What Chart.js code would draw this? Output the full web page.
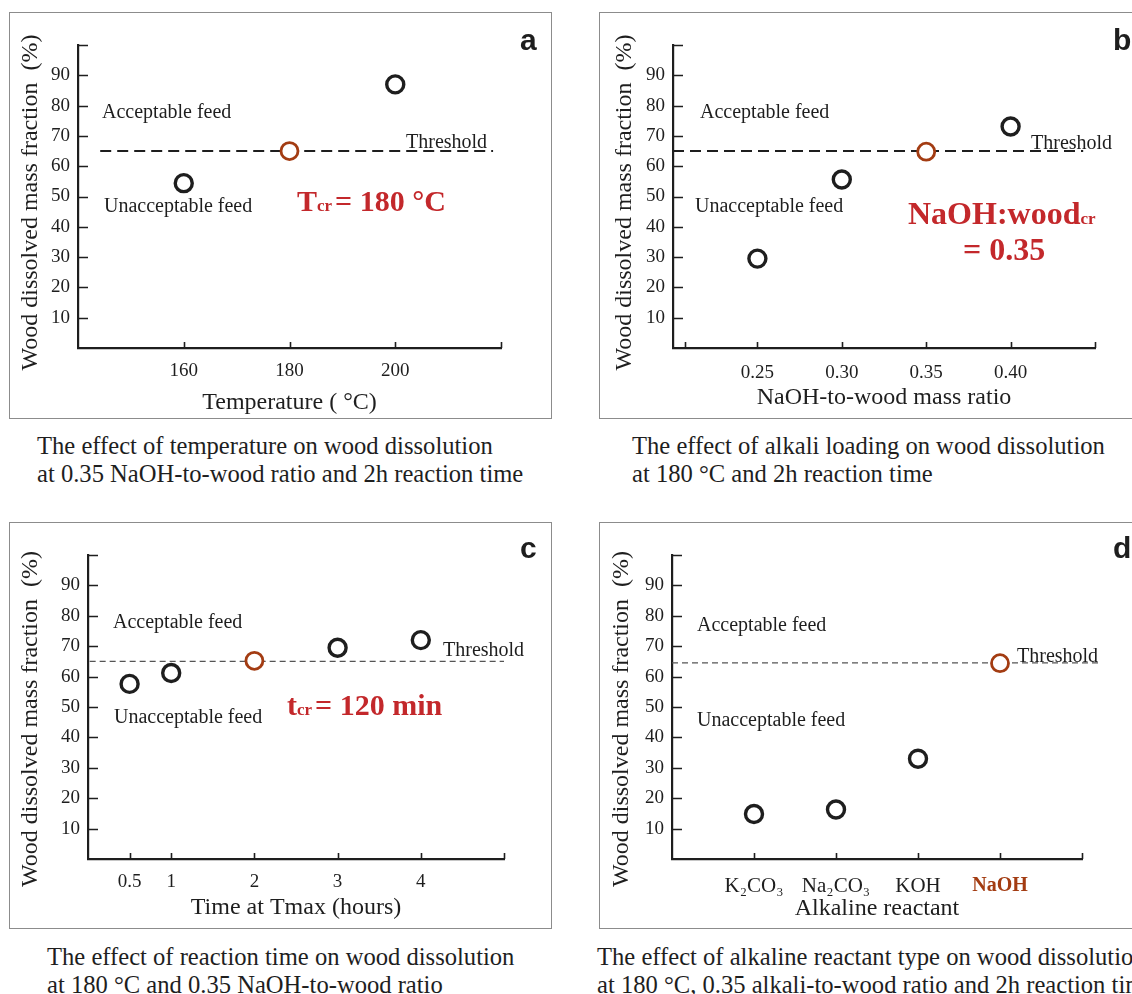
<!DOCTYPE html>
<html>
<head>
<meta charset="utf-8">
<script src="https://cdn.jsdelivr.net/npm/chart.js@4.4.1/dist/chart.umd.min.js"></script>
<style>
  body { margin: 0; background: #fff; width: 1132px; height: 994px; position: relative; overflow: hidden; }
  canvas { position: absolute; }
  .cap { position: absolute; font-family: "Liberation Serif", "Times New Roman", serif; font-size: 24.6px; line-height: 28px; color: #1e1e1e; white-space: nowrap; }
</style>
</head>
<body>
<canvas id="pa" width="543" height="407" style="left:9px;top:12px"></canvas>
<canvas id="pb" width="560" height="407" style="left:599px;top:12px"></canvas>
<canvas id="pc" width="543" height="407" style="left:9px;top:522px"></canvas>
<canvas id="pd" width="560" height="407" style="left:599px;top:522px"></canvas>

<div class="cap" style="left:37px;top:432px">The effect of temperature on wood dissolution<br>at 0.35 NaOH-to-wood ratio and 2h reaction time</div>
<div class="cap" style="left:632px;top:432px">The effect of alkali loading on wood dissolution<br>at 180 °C and 2h reaction time</div>
<div class="cap" style="left:47px;top:943px">The effect of reaction time on wood dissolution<br>at 180 °C and 0.35 NaOH-to-wood ratio</div>
<div class="cap" style="left:597px;top:943px">The effect of alkaline reactant type on wood dissolution<br>at 180 °C, 0.35 alkali-to-wood ratio and 2h reaction time</div>

<script>
// data
const yTicks = [10, 20, 30, 40, 50, 60, 70, 80, 90];

// a: temperature
const tempX = [160, 180, 200];
const tempY = [54.4, 65, 87];
const tempTicks = [160, 180, 200];

// b: NaOH-to-wood ratio
const ratioX = [0.25, 0.30, 0.35, 0.40];
const ratioY = [29.5, 55.6, 64.8, 73.1];
const ratioTicks = [0.25, 0.30, 0.35, 0.40];

// c: time at Tmax
const timeX = [0.5, 1, 2, 3, 4];
const timeY = [57.6, 61.2, 65.2, 69.5, 72];
const timeTicks = [0.5, 1, 2, 3, 4];

// d: alkaline reactant
const reactants = ['K₂CO₃', 'Na₂CO₃', 'KOH', 'NaOH'];
const reactY = [14.8, 16.3, 33, 64.4];

const thresholds = [65, 65, 65, 64.5];

const serif = '"Liberation Serif", "Times New Roman", serif';
const sans = '"Liberation Sans", Arial, sans-serif';
const ink = '#1e1e1e', red = '#c3282b', brown = '#a33c12';
const yTitle = 'Wood dissolved mass fraction  (%)';

Chart.defaults.font.family = serif;
Chart.defaults.color = ink;

const extras = {};

// short ticks pointing into the plot, plus panel frame and the text notes
const decorate = {
  id: 'decorate',
  afterDraw(chart) {
    const p = extras[chart.canvas.id];
    const { ctx, chartArea: a, scales: { x, y } } = chart;
    ctx.save();
    ctx.strokeStyle = '#8c8c8c';
    ctx.lineWidth = 1;
    ctx.strokeRect(0.5, 0.5, chart.width - 1, chart.height - 1);

    ctx.strokeStyle = ink;
    ctx.lineWidth = 1.6;
    ctx.beginPath();
    p.yMarks.forEach(v => {
      const py = Math.round(y.getPixelForValue(v)) + 0.5;
      ctx.moveTo(a.left, py); ctx.lineTo(a.left + 10, py);
    });
    p.xMarks.forEach(v => {
      const px = Math.round(x.getPixelForValue(v)) + 0.5;
      ctx.moveTo(px, a.bottom); ctx.lineTo(px, a.bottom - 6);
    });
    ctx.stroke();

    ctx.textBaseline = 'alphabetic';
    ctx.textAlign = 'left';
    p.notes.forEach(n => {
      let tx = n.x - p.ox;
      ctx.fillStyle = n.color || ink;
      n.runs.forEach(r => {
        ctx.font = r.font;
        tx += r.dx || 0;
        ctx.fillText(r.t, tx, n.y - p.oy);
        tx += ctx.measureText(r.t).width;
      });
    });
    ctx.restore();
  }
};

const plain = t => [{ t, font: '20px ' + serif }];
const big = (t, s) => ({ t, font: 'bold ' + (s || 30) + 'px ' + serif });
const sub = t => ({ t, font: 'bold 17px ' + serif });

function drawPanel(p) {
  extras[p.id] = p;
  const canvas = document.getElementById(p.id);
  const W = canvas.width, H = canvas.height;
  return new Chart(canvas, {
    type: 'scatter',
    data: {
      datasets: [
        {
          data: p.xs.map((x, i) => ({ x, y: p.ys[i] })),
          order: 0,
          pointRadius: 8.5,
          pointHoverRadius: 8.5,
          pointBorderWidth: p.xs.map((_, i) => i === p.hi ? 2.8 : 3.4),
          pointBorderColor: p.xs.map((_, i) => i === p.hi ? brown : ink),
          pointBackgroundColor: '#fff'
        },
        {
          type: 'line',
          data: p.span.map(x => ({ x, y: p.thr })),
          order: 1,
          borderColor: p.thin ? '#555' : ink,
          borderWidth: p.thin ? 1.3 : 2,
          borderDash: p.thin ? [6, 4] : [11, 6],
          pointRadius: 0,
          fill: false,
          clip: false
        }
      ]
    },
    options: {
      responsive: false,
      animation: false,
      events: [],
      layout: { padding: { left: 0, top: p.area.t, right: W - p.area.r, bottom: 0 } },
      plugins: { legend: { display: false }, tooltip: { enabled: false } },
      scales: {
        x: {
          type: 'linear',
          min: p.xMin, max: p.xMax,
          afterBuildTicks: s => { s.ticks = p.xTicks.map(v => ({ value: v })); },
          afterFit: s => { s.height = H - p.area.b; },
          grid: { display: false, drawTicks: false },
          border: { display: true, color: ink, width: 2.2 },
          ticks: {
            padding: p.xPad,
            autoSkip: false,
            maxRotation: 0,
            color: p.xColor || ink,
            font: p.xFont || { family: serif, size: 19 },
            callback: p.xFmt
          },
          title: {
            display: true, text: p.xTitle, color: ink,
            font: { family: serif, size: 24 },
            padding: { top: 0, bottom: p.xTitlePad }
          }
        },
        y: {
          min: 0, max: 100,
          afterBuildTicks: s => { s.ticks = yTicks.map(v => ({ value: v })); },
          afterFit: s => { s.width = p.area.l; },
          grid: { display: false, drawTicks: false },
          border: { display: true, color: ink, width: 2.2 },
          ticks: { padding: 8, color: ink, font: { family: serif, size: 19 } },
          title: {
            // trailing spaces nudge the centred title a little lower, as in the figure
            display: true, text: yTitle + ' '.repeat(p.yShift), color: ink,
            font: { family: serif, size: 24 },
            padding: { top: p.yTitlePad, bottom: 0 }
          }
        }
      }
    },
    plugins: [decorate]
  });
}

drawPanel({
  id: 'pa', ox: 9, oy: 12,
  area: { l: 69, t: 33, r: 492, b: 336 },
  xs: tempX, ys: tempY, hi: 1,
  xMin: 140, xMax: 220, xTicks: tempTicks, xMarks: [160, 180, 200, 220],
  yMarks: [10, 20, 30, 40, 50, 60, 70, 80, 90, 100],
  xFmt: v => String(v), xPad: 12,
  xTitle: 'Temperature ( °C)', xTitlePad: 2, yTitlePad: 7, yShift: 2,
  thr: thresholds[0], span: [144.2, 218.5], thin: false,
  notes: [
    { x: 102, y: 118, runs: plain('Acceptable feed') },
    { x: 104, y: 212, runs: plain('Unacceptable feed') },
    { x: 406, y: 148, runs: plain('Threshold') },
    { x: 297, y: 211, color: red, runs: [big('T'), sub('cr'), Object.assign(big('= 180 °C'), { dx: 3 })] },
    { x: 520, y: 50, runs: [{ t: 'a', font: 'bold 30px ' + sans }] }
  ]
});

drawPanel({
  id: 'pb', ox: 599, oy: 12,
  area: { l: 74, t: 33, r: 496, b: 336 },
  xs: ratioX, ys: ratioY, hi: 2,
  xMin: 0.2, xMax: 0.45, xTicks: ratioTicks, xMarks: [0.207, 0.25, 0.30, 0.35, 0.40, 0.45],
  yMarks: [10, 20, 30, 40, 50, 60, 70, 80, 90, 100],
  xFmt: v => v.toFixed(2), xPad: 14,
  xTitle: 'NaOH-to-wood mass ratio', xTitlePad: 7, yTitlePad: 11, yShift: 2,
  thr: thresholds[1], span: [0.2, 0.443], thin: false,
  notes: [
    { x: 700, y: 118, runs: plain('Acceptable feed') },
    { x: 695, y: 212, runs: plain('Unacceptable feed') },
    { x: 1031, y: 149, runs: plain('Threshold') },
    { x: 908, y: 224, color: red, runs: [big('NaOH:wood', 32), sub('cr')] },
    { x: 963, y: 260, color: red, runs: [big('= 0.35', 32)] },
    { x: 1113, y: 50, runs: [{ t: 'b', font: 'bold 30px ' + sans }] }
  ]
});

drawPanel({
  id: 'pc', ox: 9, oy: 522,
  area: { l: 79, t: 33, r: 495, b: 337 },
  xs: timeX, ys: timeY, hi: 2,
  xMin: 0, xMax: 5, xTicks: timeTicks, xMarks: [0.5, 1, 2, 3, 4, 5],
  yMarks: [10, 20, 30, 40, 50, 60, 70, 80, 90, 100],
  xFmt: v => String(v), xPad: 12,
  xTitle: 'Time at Tmax (hours)', xTitlePad: 7, yTitlePad: 7, yShift: 4,
  thr: thresholds[2], span: [0.02, 5], thin: true,
  notes: [
    { x: 113, y: 628, runs: plain('Acceptable feed') },
    { x: 114, y: 723, runs: plain('Unacceptable feed') },
    { x: 443, y: 656, runs: plain('Threshold') },
    { x: 287, y: 715, color: red, runs: [big('t'), sub('cr'), Object.assign(big('= 120 min'), { dx: 3 })] },
    { x: 520, y: 558, runs: [{ t: 'c', font: 'bold 30px ' + sans }] }
  ]
});

drawPanel({
  id: 'pd', ox: 599, oy: 522,
  area: { l: 73, t: 33, r: 483, b: 337 },
  xs: reactants.map((_, i) => i), ys: reactY, hi: 3,
  xMin: -1, xMax: 4, xTicks: reactants.map((_, i) => i), xMarks: [0, 1, 2, 3, 4],
  yMarks: [10, 20, 30, 40, 50, 60, 70, 80, 90, 100],
  xFmt: v => reactants[v], xPad: 15,
  xColor: c => (c.tick && c.tick.value === 3) ? brown : ink,
  xFont: c => (c.tick && c.tick.value === 3)
    ? { family: serif, size: 20, weight: 'bold' }
    : { family: serif, size: 21, weight: 'normal' },
  xTitle: 'Alkaline reactant', xTitlePad: 6, yTitlePad: 8, yShift: 4,
  thr: thresholds[3], span: [-1, 4.2], thin: true,
  notes: [
    { x: 697, y: 631, runs: plain('Acceptable feed') },
    { x: 697, y: 726, runs: plain('Unacceptable feed') },
    { x: 1017, y: 662, runs: plain('Threshold') },
    { x: 1113, y: 558, runs: [{ t: 'd', font: 'bold 30px ' + sans }] }
  ]
});
</script>
</body>
</html>
